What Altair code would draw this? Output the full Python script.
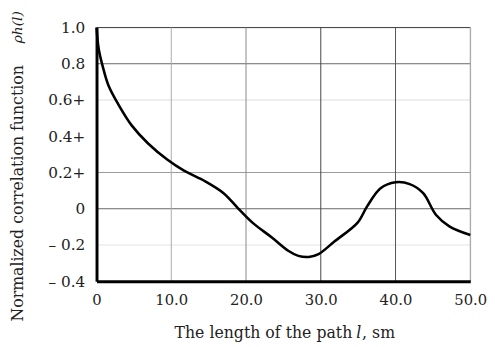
import altair as alt
import pandas as pd

# ---- data ----
path_len = [0.0, 0.3, 0.8, 1.6, 3.0, 4.7, 6.9, 9.5, 11.7, 14.6, 17.0, 18.9, 20.9,
            23.5, 25.7, 27.0, 28.4, 29.7, 31.9, 34.9, 36.2, 38.0, 40.0, 41.9,
            43.7, 45.4, 47.2, 50.0]
corr = [1.0, 0.88, 0.79, 0.68, 0.57, 0.46, 0.36, 0.27, 0.21, 0.15, 0.086, 0.004,
        -0.078, -0.16, -0.233, -0.26, -0.266, -0.25, -0.178, -0.078, 0.013, 0.113,
        0.146, 0.136, 0.086, -0.033, -0.097, -0.145]

x_ticks = [0, 10, 20, 30, 40, 50]
x_tick_labels = ["0", "10.0", "20.0", "30.0", "40.0", "50.0"]
y_ticks = [1.0, 0.8, 0.6, 0.4, 0.2, 0.0, -0.2, -0.4]
y_tick_labels = ["1.0", "0.8", "0.6+", "0.4+", "0.2+", "0", "\u2013 0.2", "\u2013 0.4"]

hgrid = [1.0, 0.8, 0.6, 0.2, 0.0, -0.2]
hgrid_color = ["#444444", "#666666", "#dddddd", "#999999", "#666666", "#e2e2e2"]
vgrid = [10, 20, 30, 40, 50]
vgrid_color = ["#aaaaaa", "#888888", "#444444", "#555555", "#999999"]

FONT = "DejaVu Serif"

def ternary(vals, labels, scale):
    parts = []
    for v, l in zip(vals, labels):
        parts.append(f"round(datum.value*{scale})=={round(v*scale)} ? '{l}'")
    return " : ".join(parts) + " : ''"

xscale = alt.Scale(domain=[0, 50], nice=False, zero=False)
yscale = alt.Scale(domain=[-0.4, 1.0], nice=False, zero=False)

xaxis = alt.Axis(values=x_ticks, labelExpr=ternary(x_ticks, x_tick_labels, 1),
                 grid=False, ticks=False, domainColor="black", domainWidth=3,
                 labelFont=FONT, labelFontSize=15, labelColor="#222",
                 labelPadding=12, title=None, zindex=1, labelFlush=False)
yaxis = alt.Axis(values=y_ticks, labelExpr=ternary(y_ticks, y_tick_labels, 10),
                 grid=False, ticks=False, domainColor="black", domainWidth=3,
                 labelFont=FONT, labelFontSize=15.5, labelColor="#222",
                 labelPadding=12, title=None, zindex=1, labelFlush=False)

df = pd.DataFrame({"l": path_len, "r": corr})
hdf = pd.DataFrame({"h": hgrid, "c": hgrid_color})
vdf = pd.DataFrame({"v": vgrid, "c": vgrid_color})

hrules = alt.Chart(hdf).mark_rule(strokeWidth=1).encode(
    y=alt.Y("h:Q", scale=yscale, axis=yaxis),
    color=alt.Color("c:N", scale=None),
)
vrules = alt.Chart(vdf).mark_rule(strokeWidth=1).encode(
    x=alt.X("v:Q", scale=xscale, axis=xaxis),
    color=alt.Color("c:N", scale=None),
)
line = alt.Chart(df).mark_line(color="black", strokeWidth=2.6, interpolate="catmull-rom").encode(
    x=alt.X("l:Q", scale=xscale, axis=xaxis),
    y=alt.Y("r:Q", scale=yscale, axis=yaxis),
)

ytxt = dict(font=FONT, color="#222")
xtxt = dict(font=FONT, fontSize=16, color="#222")
ytitle1 = alt.Chart().mark_text(angle=270, align="left", baseline="middle", fontSize=16, **ytxt).encode(
    x=alt.value(-80), y=alt.value(299), text=alt.value("Normalized correlation function"))
ytitle2 = alt.Chart().mark_text(angle=270, align="left", baseline="middle", fontStyle="italic",
                                fontSize=14, **ytxt).encode(
    x=alt.value(-80), y=alt.value(16), text=alt.value("\u03c1h(l)"))
xtitle1 = alt.Chart().mark_text(align="right", baseline="alphabetic", **xtxt).encode(
    x=alt.value(260), y=alt.value(316), text=alt.value("The length of the path"))
xtitle2 = alt.Chart().mark_text(align="center", baseline="alphabetic", fontStyle="italic", **xtxt).encode(
    x=alt.value(266.5), y=alt.value(316), text=alt.value("l"))
xtitle3 = alt.Chart().mark_text(align="left", baseline="alphabetic", **xtxt).encode(
    x=alt.value(270), y=alt.value(316), text=alt.value(", sm"))

chart = alt.layer(hrules, vrules, line, ytitle1, ytitle2, xtitle1, xtitle2, xtitle3).properties(
    width=380, height=258,
    autosize=alt.AutoSizeParams(type="none"),
    padding={"left": 90, "top": 17, "right": 17, "bottom": 62},
).configure_view(stroke=None).configure(background="white")

chart.save("out.html", embed_options={"renderer": "svg", "actions": False})
